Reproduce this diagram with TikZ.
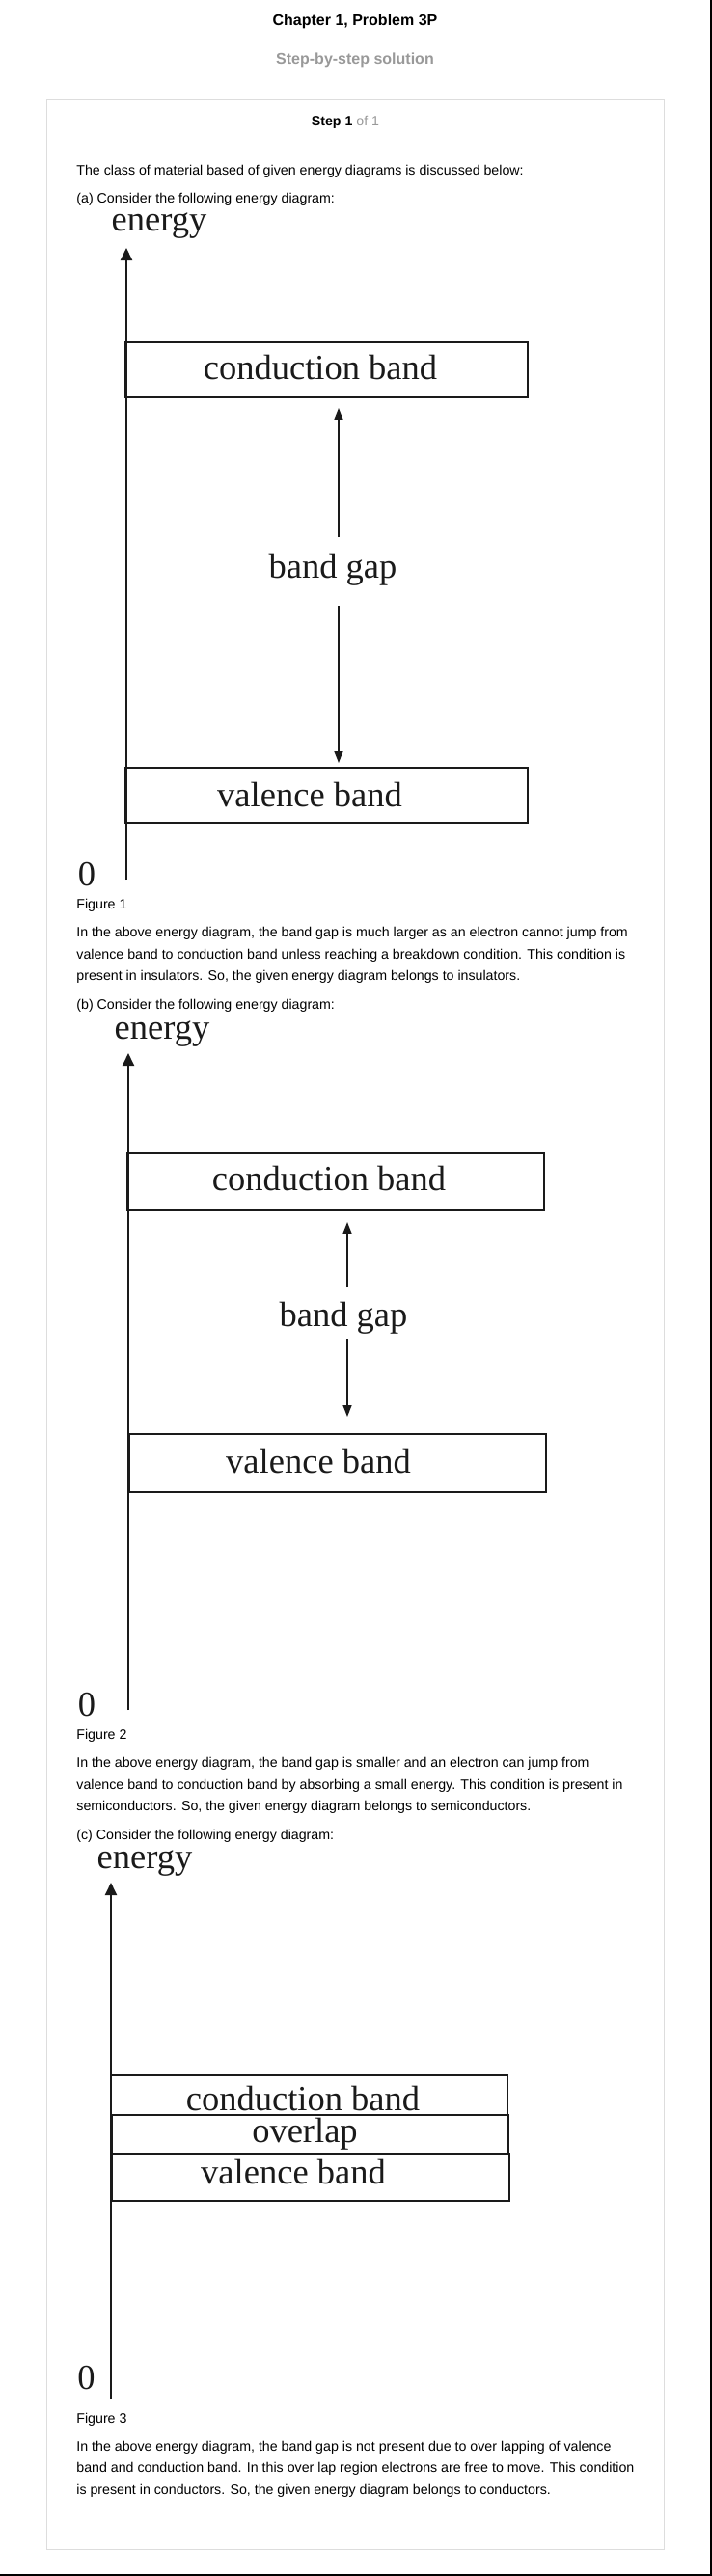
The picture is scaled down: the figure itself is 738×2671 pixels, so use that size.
\documentclass[tikz,border=0pt]{standalone}
\usepackage{fontspec}
\setmainfont{Liberation Sans}
\newfontfamily\tms{Liberation Serif}
\usetikzlibrary{arrows.meta}
\newcommand{\bodyf}{\fontsize{7.1pt}{8pt}\selectfont}
\newcommand{\diagf}{\tms\fontsize{18.25pt}{20pt}\selectfont}
\newcommand{\titlef}{\bfseries\fontsize{8pt}{9pt}\selectfont}
\definecolor{subgray}{HTML}{999999}
\definecolor{cardgray}{HTML}{DDDDDD}
\definecolor{ink}{HTML}{1A1A1A}
\begin{document}
\begin{tikzpicture}[x=0.5pt,y=-0.5pt,
  txt/.style={anchor=base west, inner sep=0pt, font=\bodyf},
  lab/.style={anchor=base, inner sep=0pt, font=\diagf, text=ink},
  axisline/.style={draw=ink, line width=1pt, -{Triangle[width=6pt,length=6.5pt]}},
  gaparrow/.style={draw=ink, line width=0.75pt, -{Triangle[width=4.5pt,length=6pt]}},
  bandbox/.style={draw=ink, line width=1pt},
  overlapbox/.style={draw=ink, line width=1.3pt}]
\useasboundingbox (0,0) rectangle (738,2671);
\fill[white] (0,0) rectangle (738,2671);
% page edges
\draw[line width=0.75pt] (737,0) -- (737,2670) -- (0,2670);
% header
\node[anchor=base, inner sep=0pt, font=\titlef] (title) at (368,27) {Chapter 1, Problem 3P};
\node[anchor=base, inner sep=0pt, font=\titlef, text=subgray] (subtitle) at (368,67) {Step-by-step solution};
% card
\draw[cardgray, line width=0.5pt] (48.5,104) rectangle (688,2643);
\node[anchor=base, inner sep=0pt, font=\bodyf] (step) at (358,131) {\textbf{Step 1} \textcolor{subgray}{of 1}};
\node[txt] (intro) at (79,181) {The class of material based of given energy diagrams is discussed below:};
\node[txt] (pa) at (79,210) {(a) Consider the following energy diagram:};

% ---------- diagram (a) ----------
\node[lab] (ena) at (165,239) {energy};
\coordinate (a0) at (131,912);
\coordinate (atop) at (131,257);
\draw[axisline] (a0) -- (atop);
\node[lab] (zeroa) at (90,918) {0};
\draw[bandbox] (130,355) rectangle (547,412);
\node[lab] (cba) at (332,393) {conduction band};
\node[lab] (bga) at (345,599) {band gap};
\coordinate (aup1) at (351,557);
\coordinate (aup2) at (351,423);
\coordinate (adn1) at (351,628);
\coordinate (adn2) at (351,791);
\draw[gaparrow] (aup1) -- (aup2);
\draw[gaparrow] (adn1) -- (adn2);
\draw[bandbox] (130,796) rectangle (547,853);
\node[lab] (vba) at (321,836) {valence band};

\node[txt] (fig1) at (79,942) {Figure 1};
\node[txt] (p1a) at (79,971) {In the above energy diagram, the band gap is much larger as an electron cannot jump from};
\node[txt] (p1b) at (79,994) {valence band to conduction band unless reaching a breakdown condition. This condition is};
\node[txt] (p1c) at (79,1016) {present in insulators. So, the given energy diagram belongs to insulators.};
\node[txt] (pb) at (79,1046) {(b) Consider the following energy diagram:};

% ---------- diagram (b) ----------
\node[lab] (enb) at (168,1077) {energy};
\coordinate (b0) at (133,1773);
\coordinate (btop) at (133,1092);
\draw[axisline] (b0) -- (btop);
\node[lab] (zerob) at (90,1779) {0};
\draw[bandbox] (132,1196) rectangle (564,1255);
\node[lab] (cbb) at (341,1234) {conduction band};
\node[lab] (bgb) at (356,1375) {band gap};
\coordinate (bup1) at (360,1334);
\coordinate (bup2) at (360,1267);
\coordinate (bdn1) at (360,1388);
\coordinate (bdn2) at (360,1469);
\draw[gaparrow] (bup1) -- (bup2);
\draw[gaparrow] (bdn1) -- (bdn2);
\draw[bandbox] (134,1487) rectangle (566,1547);
\node[lab] (vbb) at (330,1527) {valence band};

\node[txt] (fig2) at (79,1803) {Figure 2};
\node[txt] (p2a) at (79,1832) {In the above energy diagram, the band gap is smaller and an electron can jump from};
\node[txt] (p2b) at (79,1855) {valence band to conduction band by absorbing a small energy. This condition is present in};
\node[txt] (p2c) at (79,1877) {semiconductors. So, the given energy diagram belongs to semiconductors.};
\node[txt] (pc) at (79,1907) {(c) Consider the following energy diagram:};

% ---------- diagram (c) ----------
\node[lab] (enc) at (150,1937) {energy};
\coordinate (c0) at (115,2487);
\coordinate (ctop) at (115,1952);
\draw[axisline] (c0) -- (ctop);
\node[lab] (zeroc) at (89.5,2477) {0};
\draw[bandbox] (115,2152) rectangle (526,2193);
\draw[bandbox] (116,2233) rectangle (528,2282);
\draw[overlapbox] (116,2193) rectangle (527,2233);
\node[lab] (cbc) at (314,2188) {conduction band};
\node[lab] (olc) at (316,2221) {overlap};
\node[lab] (vbc) at (304,2264) {valence band};

\node[txt] (fig3) at (79,2512) {Figure 3};
\node[txt] (p3a) at (79,2541) {In the above energy diagram, the band gap is not present due to over lapping of valence};
\node[txt] (p3b) at (79,2563) {band and conduction band. In this over lap region electrons are free to move. This condition};
\node[txt] (p3c) at (79,2586) {is present in conductors. So, the given energy diagram belongs to conductors.};
\end{tikzpicture}
\end{document}
